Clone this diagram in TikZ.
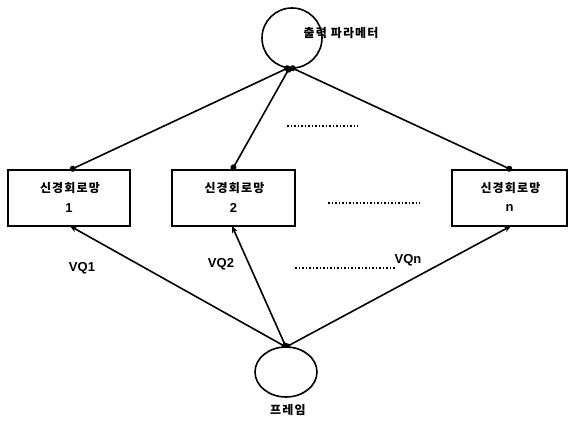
\documentclass[tikz,border=0pt]{standalone}
\usepackage{fontspec}
\setmainfont{Liberation Sans}
\newfontfamily\kr[LetterSpace=10]{Noto Sans CJK KR}
\usetikzlibrary{arrows.meta,shapes.geometric}
\begin{document}
\begin{tikzpicture}[x=1pt,y=-1pt,
  netbox/.style={draw,line width=1.2pt,minimum width=#1,minimum height=56pt,inner sep=0pt},
  ktext/.style={font=\kr\bfseries\fontsize{12}{14}\selectfont},
  link/.style={line width=1.6pt,{Circle[length=6pt]}-{Circle[length=6pt]}},
  feed/.style={line width=1.6pt,{Circle[length=5pt]}-{Stealth[length=7pt,width=6pt]}},
  dots/.style={line width=1.1pt,dash pattern=on 1.5pt off 2pt},
  lbl/.style={font=\fontsize{13}{15}\selectfont\bfseries}
]
\useasboundingbox (0,0) rectangle (571,422);
% circles
\draw[line width=1.6pt] (292,38) circle (30);
\coordinate (top) at (290,67);
\draw[line width=1.6pt] (286,372) ellipse (31 and 25);
\coordinate (bot) at (286,347);
\node[ktext,anchor=west] (out) at (300,33) {출력 파라메터};
\node[ktext] (frm) at (288,410) {프레임};
% boxes
\node[netbox=122pt] (b1) at (69,198) {};
\node[netbox=123pt] (b2) at (233.5,198) {};
\node[netbox=115pt] (bn) at (509.5,198) {};
\node[ktext] (t1) at (70,188) {신경회로망};
\node[lbl] (n1) at (69,208) {1};
\node[ktext] (t2) at (234.5,188) {신경회로망};
\node[lbl] (n2) at (233.5,208) {2};
\node[ktext] (tn) at (510.5,188) {신경회로망};
\node[lbl] (nn) at (509.5,208) {n};
% connectors
\coordinate (b1t) at (70,170);
\coordinate (b2t) at (232,170);
\coordinate (bnt) at (512,170);
\coordinate (b1b) at (70,226);
\coordinate (b2b) at (232,226);
\coordinate (bnb) at (511,226);
\draw[link] (top) -- (b1t);
\draw[link] (top) -- (b2t);
\draw[link] (top) -- (bnt);
\draw[feed] (bot) -- (b1b);
\draw[feed] (bot) -- (b2b);
\draw[feed] (bot) -- (bnb);
% labels
\node[lbl] (vq1) at (82,268) {VQ1};
\node[lbl] (vq2) at (221,264) {VQ2};
\node[lbl] (vqn) at (408,260) {VQn};
% dotted lines
\coordinate (d1a) at (287,126); \coordinate (d1b) at (358,126);
\coordinate (d2a) at (328,203); \coordinate (d2b) at (420,203);
\coordinate (d3a) at (295,268); \coordinate (d3b) at (395,268);
\draw[dots] (d1a) -- (d1b);
\draw[dots] (d2a) -- (d2b);
\draw[dots] (d3a) -- (d3b);
\end{tikzpicture}
\end{document}
